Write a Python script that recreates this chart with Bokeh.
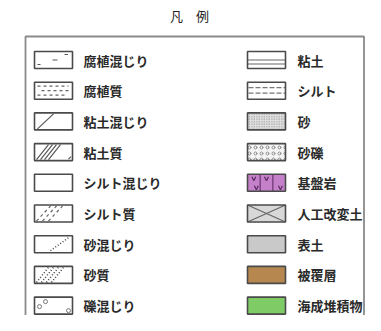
from bokeh.plotting import figure
from bokeh.models import Range1d, ColumnDataSource
from bokeh.core.properties import value
from bokeh.embed import file_html
from bokeh.resources import INLINE

# ---- data ----
title_text = "凡　例"
left_labels = ["腐植混じり", "腐植質", "粘土混じり", "粘土質", "シルト混じり",
               "シルト質", "砂混じり", "砂質", "礫混じり"]
right_labels = ["粘土", "シルト", "砂", "砂礫", "基盤岩",
                "人工改変土", "表土", "被覆層", "海成堆積物"]
right_fills = ["#ffffff", "#ffffff", "#e0e0e0", "#f4f4f4", "#c480c8",
               "#d8d8d8", "#c9c9c9", "#b6874f", "#7fcb66"]
right_hatch = [" ", " ", "dot", "ring", " ", " ", " ", " ", " "]
right_hatch_scale = [1, 1, 2.5, 6, 1, 1, 1, 1, 1]

# ---- layout ----
W, H = 365, 315
p = figure(width=W, height=H, x_range=Range1d(0, W), y_range=Range1d(H, 0),
           output_backend="svg", toolbar_location=None, min_border=0,
           x_axis_location=None, y_axis_location=None)
p.grid.visible = False
p.outline_line_color = None
p.background_fill_color = "white"
p.border_fill_color = "white"

FONT = value("Noto Sans CJK JP")
n = len(left_labels)
yc = [59.5 + 30.7 * i for i in range(n)]
HH = 8.5
LX0, LX1 = 34, 72
RX0, RX1 = 247, 285
BOX_COLOR = "#4a4a4a"

# title
p.text(x=[189], y=[15], text=[title_text], text_font=FONT, text_font_size="13px",
       text_align="center", text_baseline="middle", text_color="#222222")

# frame
p.line([25, 25, 363.5, 363.5], [H, 36, 36, H], line_color="#8a8a8a", line_width=1.8)

# right column fills
rsrc = ColumnDataSource(dict(left=[RX0] * n, right=[RX1] * n,
                             top=[y - HH for y in yc], bottom=[y + HH for y in yc],
                             fill=right_fills, hatch=right_hatch, hscale=right_hatch_scale))
p.quad(left="left", right="right", top="top", bottom="bottom", source=rsrc,
       fill_color="fill", line_color=None, hatch_pattern="hatch",
       hatch_color="#8c8c8c", hatch_scale="hscale", hatch_weight=1.0)

# ---- left patterns ----
solid_x, solid_y = [], []
dash_x, dash_y = [], []
dot_x, dot_y = [], []
for i, y in enumerate(yc):
    t, b = y - HH, y + HH
    if i == 0:
        solid_x += [[52, 57], [64, 67.5], [37, 40]]
        solid_y += [[y, y], [t + 3, t + 3], [b - 4, b - 4]]
    elif i == 1:
        dash_x += [[37, 68], [41, 68], [37, 64]]
        dash_y += [[y - 4.5, y - 4.5], [y, y], [y + 4.5, y + 4.5]]
    elif i == 2:
        solid_x += [[37, 53]]
        solid_y += [[b - 1, t + 1]]
    elif i == 3:
        for k in range(4):
            solid_x += [[36 + 4 * k, 48 + 4 * k]]
            solid_y += [[b - 1, t + 1]]
        solid_x += [[68, 70.5]]
        solid_y += [[b - 1.5, b - 4]]
    elif i == 5:
        for k in range(3):
            dash_x += [[36 + 6 * k, 50 + 6 * k]]
            dash_y += [[b - 1, t + 1]]
    elif i == 6:
        dot_x += [[50, 68]]
        dot_y += [[b - 2, t + 2]]
    elif i == 7:
        for k in range(4):
            dot_x += [[36 + 5 * k, 48 + 5 * k]]
            dot_y += [[b - 1, t + 1]]

p.multi_line(solid_x, solid_y, line_color="#555555", line_width=1.2)
p.multi_line(dash_x, dash_y, line_color="#666666", line_width=1.2, line_dash="3 3")
p.multi_line(dot_x, dot_y, line_color="#444444", line_width=1.6, line_dash="1 2")
y8 = yc[8]
p.scatter([39, 45, 68], [y8 + 1, y8 - 4, y8 + 5], size=4, marker="circle",
          fill_color=None, line_color="#777777", line_width=1)

# ---- right patterns ----
rs_x, rs_y = [], []
rd_x, rd_y = [], []
for i, y in enumerate(yc):
    t, b = y - HH, y + HH
    if i == 0:
        rs_x += [[RX0, RX1], [RX0, RX1]]
        rs_y += [[y, y], [y + 4, y + 4]]
    elif i == 1:
        rd_x += [[RX0 + 1, RX1], [RX0 + 1, RX1]]
        rd_y += [[y - 3, y - 3], [y + 2.5, y + 2.5]]
    elif i == 5:
        rs_x += [[RX0, RX1], [RX0, RX1]]
        rs_y += [[t, b], [b, t]]
p.multi_line(rs_x, rs_y, line_color="#666666", line_width=1.2)
p.multi_line(rd_x, rd_y, line_color="#777777", line_width=1.2, line_dash="5 2")

# bedrock: cells and v marks
y4 = yc[4]
cw = (RX1 - RX0) / 3
p.multi_line([[RX0 + cw, RX0 + cw], [RX0 + 2 * cw, RX0 + 2 * cw]],
             [[y4 - HH, y4 + HH], [y4 - HH, y4 + HH]], line_color="#6a3470", line_width=1.2)
vx = [RX0 + 1.5 * cw, RX0 + 0.7 * cw, RX0 + 2.6 * cw, RX0 + 0.5 * cw]
vy = [y4 - 4, y4 + 5, y4 + 5, y4 - 4]
p.multi_line([[x - 2, x, x + 2] for x in vx], [[yy - 2, yy + 2, yy - 2] for yy in vy],
             line_color="#5a2a60", line_width=1.2)

# box outlines
p.quad(left=[LX0] * n, right=[LX1] * n, top=[y - HH for y in yc], bottom=[y + HH for y in yc],
       fill_color=None, line_color=BOX_COLOR, line_width=1.6)
p.quad(left=[RX0] * n, right=[RX1] * n, top=[y - HH for y in yc], bottom=[y + HH for y in yc],
       fill_color=None, line_color=BOX_COLOR, line_width=1.6)

# labels
p.text(x=[83] * n, y=yc, text=left_labels, text_font=FONT, text_font_size="13px",
       text_font_style="bold", text_align="left", text_baseline="middle", text_color="#2a2a2a")
p.text(x=[297] * n, y=yc, text=right_labels, text_font=FONT, text_font_size="13px",
       text_font_style="bold", text_align="left", text_baseline="middle", text_color="#2a2a2a")

open("out.html", "w").write(file_html(p, INLINE))
